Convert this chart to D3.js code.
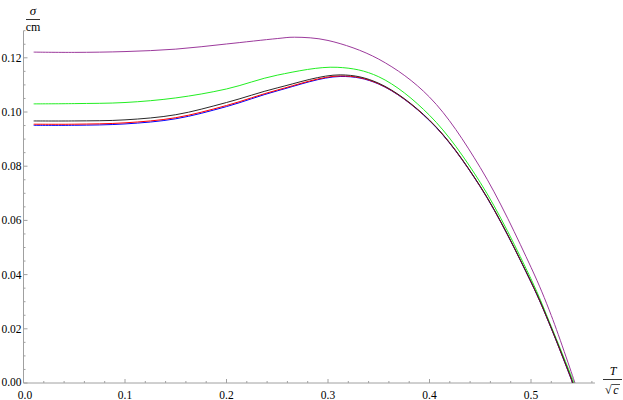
<!DOCTYPE html>
<html>
<head>
<meta charset="utf-8">
<script src="https://cdn.jsdelivr.net/npm/d3@7"></script>
<style>
  html, body { margin: 0; padding: 0; background: #fff; }
  svg { display: block; }
  svg text { font-family: "Liberation Serif", serif; }
</style>
</head>
<body>
<svg id="chart" width="623" height="400"></svg>
<script>
// T / sqrt(c) sample points
const tPurple = [0.01, 0.05, 0.10, 0.15, 0.20, 0.25, 0.267, 0.30, 0.35, 0.40, 0.45, 0.50, 0.52, 0.5433];
const sPurple = [0.1221, 0.1220, 0.1223, 0.1232, 0.1251, 0.1271, 0.1276, 0.1264, 0.1195, 0.1055, 0.0795, 0.0427, 0.0249, 0.0];

const tGreen = [0.01, 0.05, 0.10, 0.15, 0.20, 0.25, 0.309, 0.35, 0.40, 0.45, 0.50, 0.52, 0.5424];
const sGreen = [0.1030, 0.1031, 0.1035, 0.1052, 0.1085, 0.1136, 0.1165, 0.1130, 0.0988, 0.0740, 0.0384, 0.0208, 0.0];

const tBlack = [0.01, 0.05, 0.10, 0.15, 0.20, 0.25, 0.312, 0.35, 0.40, 0.45, 0.50, 0.52, 0.5414];
const sBlack = [0.0967, 0.0967, 0.0971, 0.0990, 0.1035, 0.1089, 0.1137, 0.1106, 0.0970, 0.0726, 0.0374, 0.0203, 0.0];

const tRed = [0.01, 0.05, 0.10, 0.15, 0.20, 0.25, 0.312, 0.35, 0.40, 0.45, 0.50, 0.52, 0.5412];
const sRed = [0.0955, 0.0955, 0.0960, 0.0979, 0.1024, 0.1081, 0.1133, 0.1104, 0.0969, 0.0725, 0.0373, 0.0202, 0.0];

const tBlue = [0.01, 0.05, 0.10, 0.15, 0.20, 0.25, 0.312, 0.35, 0.40, 0.45, 0.50, 0.52, 0.5410];
const sBlue = [0.0951, 0.0951, 0.0956, 0.0975, 0.1020, 0.1078, 0.1131, 0.1103, 0.0968, 0.0724, 0.0372, 0.0201, 0.0];

const xMajorTicks = [0.0, 0.1, 0.2, 0.3, 0.4, 0.5];
const yMajorTicks = [0.00, 0.02, 0.04, 0.06, 0.08, 0.10, 0.12];

const series = [
  { t: tPurple, s: sPurple, color: "#9c3a9c" },
  { t: tGreen,  s: sGreen,  color: "#22ee22" },
  { t: tBlue,   s: sBlue,   color: "#0000ff" },
  { t: tRed,    s: sRed,    color: "#ff0000" },
  { t: tBlack,  s: sBlack,  color: "#2a2a2a" }
];

const svg = d3.select("#chart");
const x = d3.scaleLinear().domain([0, 0.5]).range([23.5, 531]);
const y = d3.scaleLinear().domain([0, 0.1]).range([383, 112]);
const xMax = 0.563, yMax = 0.13;
const axisColor = "#a0a0a0";
const serif = "Liberation Serif";

// axes lines
svg.append("line").attr("x1", x(0)).attr("x2", x(xMax)).attr("y1", y(0)).attr("y2", y(0))
  .attr("stroke", axisColor).attr("stroke-width", 1);
svg.append("line").attr("x1", x(0)).attr("x2", x(0)).attr("y1", y(0)).attr("y2", y(yMax))
  .attr("stroke", axisColor).attr("stroke-width", 1);

// x ticks
const xMinor = d3.range(0, xMax + 1e-9, 0.02);
svg.append("g").selectAll("line").data(xMinor).join("line")
  .attr("x1", d => x(d)).attr("x2", d => x(d))
  .attr("y1", y(0)).attr("y2", d => y(0) - (Math.abs(d * 10 - Math.round(d * 10)) < 1e-6 ? 4 : 2))
  .attr("stroke", axisColor);
svg.append("g").selectAll("text").data(xMajorTicks).join("text")
  .style("font-family", serif)
  .attr("x", d => x(d) + (d === 0 ? 1.5 : 0)).attr("y", 398.5)
  .attr("text-anchor", "middle").attr("font-size", 11.5)
  .text(d => d3.format(".1f")(d));

// y ticks
const yMinor = d3.range(0, yMax + 1e-9, 0.005);
svg.append("g").selectAll("line").data(yMinor).join("line")
  .attr("y1", d => y(d)).attr("y2", d => y(d))
  .attr("x1", x(0)).attr("x2", d => x(0) + (Math.abs(d * 50 - Math.round(d * 50)) < 1e-6 ? 4 : 2))
  .attr("stroke", axisColor);
svg.append("g").selectAll("text").data(yMajorTicks).join("text")
  .style("font-family", serif)
  .attr("x", 21.5).attr("y", d => y(d) + (d === 0 ? 2.5 : 4))
  .attr("text-anchor", "end").attr("font-size", 11.5)
  .text(d => d3.format(".2f")(d));

// curves
const line = d3.line().x(d => x(d[0])).y(d => y(d[1])).curve(d3.curveCatmullRom.alpha(0.5));
series.forEach(sr => {
  const pts = sr.t.map((t, i) => [t, sr.s[i]]);
  svg.append("path").datum(pts).attr("d", line)
    .attr("fill", "none").attr("stroke", sr.color).attr("stroke-width", 1);
});

// y axis label: sigma / cm
const yl = svg.append("g").style("font-family", serif);
yl.append("text").attr("x", 33).attr("y", 15).attr("text-anchor", "middle")
  .attr("font-size", 13).attr("font-style", "italic").text("σ");
yl.append("line").attr("x1", 26).attr("x2", 40).attr("y1", 19.5).attr("y2", 19.5)
  .attr("stroke", "#000").attr("stroke-width", 0.8);
yl.append("text").attr("x", 33).attr("y", 31).attr("text-anchor", "middle")
  .attr("font-size", 12).text("cm");

// x axis label: T / sqrt(c)
const xl = svg.append("g").style("font-family", serif);
xl.append("text").attr("x", 613).attr("y", 375).attr("text-anchor", "middle")
  .attr("font-size", 12).attr("font-style", "italic").text("T");
xl.append("line").attr("x1", 603).attr("x2", 622).attr("y1", 379.5).attr("y2", 379.5)
  .attr("stroke", "#000").attr("stroke-width", 0.8);
xl.append("text").attr("x", 605).attr("y", 394).attr("font-size", 12).text("√");
xl.append("line").attr("x1", 611.5).attr("x2", 620).attr("y1", 384.5).attr("y2", 384.5)
  .attr("stroke", "#000").attr("stroke-width", 0.7);
xl.append("text").attr("x", 615.8).attr("y", 394).attr("text-anchor", "middle")
  .attr("font-size", 12).attr("font-style", "italic").text("c");
</script>
</body>
</html>
